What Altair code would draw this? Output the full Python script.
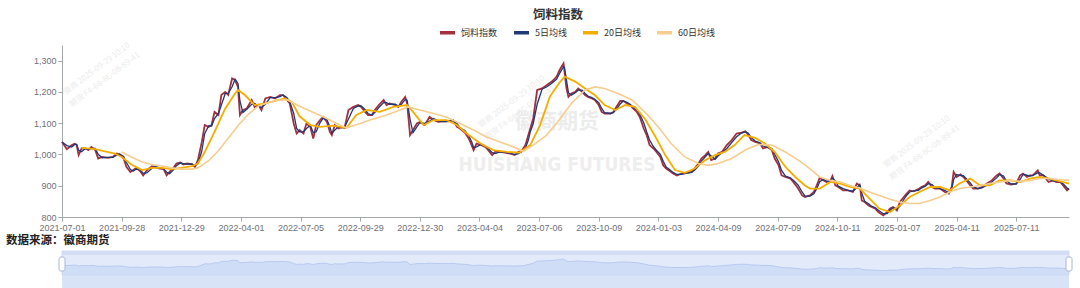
import altair as alt
import pandas as pd

TITLE = "饲料指数"
SOURCE = "数据来源：徽商期货"
SERIES = ["饲料指数", "5日均线", "20日均线", "60日均线"]
COLORS = ["#A3303F", "#1F3A77", "#F4AE00", "#F7CD8F"]
X_LABELS = ["2021-07-01", "2021-09-28", "2021-12-29", "2022-04-01", "2022-07-05",
            "2022-09-29", "2022-12-30", "2023-04-04", "2023-07-06", "2023-10-09",
            "2024-01-03", "2024-04-09", "2024-07-09", "2024-10-11", "2025-01-07",
            "2025-04-11", "2025-07-11"]
LABEL_STEP = 61          # trading days between axis labels
LAST_DAY = 1030          # last trading-day number shown
Y_TICKS = [800, 900, 1000, 1100, 1200, 1300]
WATERMARK_CN = "徽商期货"
WATERMARK_EN = "HUISHANG FUTURES"
STAMP_1 = "徽商    2025-09-29    10:10"
STAMP_2 = "期货    F4-68-8C-08-89-41"

# (trading-day number, value)
INDEX_POINTS = [
    (0, 1040), (5, 1017), (10, 1030), (13, 1034), (15, 1030), (17, 998), (20, 1019), (24, 1019),
    (27, 1014), (30, 1024), (34, 1014), (37, 987), (41, 992), (47, 989), (52, 992), (56, 1003),
    (59, 1000), (63, 987), (66, 960), (70, 944), (73, 950), (76, 957), (80, 946), (83, 933),
    (87, 950), (92, 962), (95, 960), (100, 955), (104, 953), (107, 933), (110, 944), (114, 957),
    (117, 971), (121, 974), (124, 968), (128, 971), (133, 968), (136, 960), (139, 982), (143, 1040),
    (146, 1094), (150, 1088), (153, 1094), (156, 1136), (160, 1126), (163, 1190), (167, 1200),
    (170, 1190), (174, 1243), (177, 1238), (180, 1216), (182, 1126), (185, 1142), (189, 1147),
    (194, 1174), (197, 1152), (201, 1158), (204, 1142), (208, 1179), (213, 1184), (218, 1179),
    (223, 1190), (226, 1190), (230, 1174), (233, 1163), (237, 1099), (240, 1067), (243, 1078),
    (247, 1067), (250, 1099), (254, 1088), (257, 1051), (260, 1094), (264, 1110), (267, 1120),
    (271, 1104), (274, 1072), (276, 1062), (279, 1094), (283, 1083), (286, 1088), (289, 1085),
    (293, 1142), (298, 1152), (303, 1158), (306, 1152), (310, 1136), (313, 1126), (317, 1126),
    (320, 1142), (324, 1158), (329, 1174), (332, 1158), (335, 1163), (341, 1158), (344, 1152),
    (347, 1168), (351, 1184), (353, 1163), (356, 1062), (359, 1078), (363, 1099), (366, 1104),
    (371, 1094), (376, 1120), (380, 1110), (385, 1104), (390, 1106), (395, 1106), (400, 1110),
    (404, 1088), (407, 1083), (412, 1070), (416, 1051), (419, 1030), (421, 1014), (424, 1035),
    (429, 1030), (433, 1024), (436, 1014), (440, 998), (443, 1008), (448, 1008), (453, 1006),
    (458, 1003), (463, 998), (467, 1008), (470, 1010), (474, 1030), (477, 1062), (479, 1083),
    (482, 1115), (486, 1206), (491, 1211), (496, 1222), (501, 1233), (506, 1249), (509, 1270),
    (513, 1291), (514, 1265), (516, 1211), (518, 1184), (521, 1195), (525, 1200), (528, 1211),
    (532, 1200), (535, 1190), (538, 1184), (542, 1179), (545, 1174), (549, 1158), (552, 1136),
    (555, 1131), (561, 1131), (564, 1136), (567, 1152), (571, 1171), (574, 1171), (578, 1163),
    (581, 1158), (584, 1147), (588, 1136), (591, 1120), (595, 1083), (598, 1062), (601, 1030),
    (605, 1019), (608, 1008), (612, 992), (615, 965), (618, 955), (622, 946), (625, 939),
    (629, 933), (634, 939), (639, 941), (644, 944), (647, 955), (651, 971), (654, 987),
    (658, 998), (661, 1008), (664, 982), (668, 987), (671, 1003), (675, 1008), (680, 1030),
    (685, 1046), (690, 1067), (695, 1070), (699, 1074), (702, 1062), (705, 1046), (709, 1040),
    (714, 1035), (717, 1019), (722, 1024), (726, 1014), (729, 987), (733, 965), (736, 933),
    (740, 928), (745, 923), (748, 912), (753, 891), (757, 869), (760, 864), (765, 869),
    (769, 880), (772, 901), (775, 925), (779, 917), (782, 912), (786, 917), (788, 931),
    (791, 901), (794, 896), (799, 885), (804, 885), (809, 880), (813, 907), (816, 901),
    (818, 853), (821, 848), (825, 837), (828, 832), (832, 827), (835, 816), (840, 805),
    (844, 816), (847, 827), (850, 832), (854, 821), (857, 848), (861, 864), (864, 875),
    (867, 885), (871, 882), (876, 889), (879, 896), (883, 901), (886, 912), (890, 896),
    (893, 891), (898, 891), (903, 880), (907, 875), (910, 896), (912, 944), (915, 928),
    (919, 936), (922, 928), (925, 917), (929, 901), (932, 891), (937, 891), (941, 896),
    (946, 907), (951, 917), (956, 933), (959, 939), (963, 923), (966, 907), (971, 904),
    (976, 907), (980, 933), (983, 939), (987, 928), (990, 933), (993, 933), (998, 949),
    (1000, 933), (1004, 933), (1009, 912), (1014, 917), (1017, 912), (1021, 912), (1024, 901),
    (1028, 885), (1030, 891),
]

MA20_POINTS = [
    (20, 1021), (34, 1017), (44, 1010), (54, 1003), (61, 992), (71, 968), (82, 950), (92, 957),
    (102, 957), (112, 953), (122, 957), (133, 963), (139, 971), (146, 1008), (156, 1072),
    (167, 1147), (177, 1195), (180, 1206), (187, 1190), (197, 1158), (208, 1163), (218, 1171),
    (228, 1179), (235, 1168), (243, 1122), (254, 1094), (264, 1088), (277, 1092), (291, 1085),
    (301, 1126), (312, 1142), (325, 1136), (339, 1152), (353, 1158), (359, 1136), (370, 1094),
    (380, 1110), (393, 1110), (404, 1094), (414, 1067), (428, 1035), (441, 1014), (455, 1008),
    (468, 1006), (479, 1030), (489, 1094), (499, 1185), (509, 1230), (514, 1249), (525, 1233),
    (535, 1211), (545, 1190), (555, 1158), (566, 1142), (576, 1158), (586, 1152), (596, 1115),
    (606, 1062), (617, 998), (627, 950), (637, 941), (647, 955), (658, 982), (668, 998),
    (678, 1008), (688, 1030), (698, 1062), (709, 1053), (719, 1035), (729, 1008), (740, 960),
    (750, 928), (760, 901), (765, 891), (775, 891), (786, 912), (796, 907), (806, 896),
    (816, 891), (826, 859), (836, 827), (847, 816), (857, 837), (867, 864), (877, 880),
    (888, 896), (898, 896), (908, 885), (918, 907), (929, 923), (939, 901), (949, 901),
    (959, 917), (970, 917), (980, 912), (990, 923), (1000, 928), (1010, 923), (1021, 914),
    (1030, 907),
]

MA60_POINTS = [
    (61, 1008), (71, 992), (82, 976), (92, 968), (102, 963), (112, 957), (122, 953), (133, 953),
    (139, 957), (150, 980), (160, 1012), (170, 1052), (180, 1092), (191, 1130), (201, 1155),
    (211, 1166), (221, 1174), (231, 1174), (242, 1156), (256, 1136), (271, 1115), (284, 1094),
    (291, 1085), (305, 1099), (318, 1113), (332, 1126), (346, 1142), (354, 1152), (366, 1142),
    (380, 1131), (393, 1120), (407, 1099), (421, 1078), (434, 1056), (448, 1040), (462, 1024),
    (472, 1010), (482, 1030), (495, 1060), (507, 1104), (521, 1163), (535, 1206), (545, 1216),
    (555, 1211), (569, 1195), (583, 1174), (596, 1136), (610, 1088), (623, 1035), (637, 992),
    (651, 971), (661, 965), (671, 971), (685, 987), (699, 1014), (712, 1032), (726, 1030),
    (740, 1008), (753, 982), (762, 962), (775, 928), (786, 917), (796, 912), (806, 901),
    (816, 893), (826, 880), (836, 869), (847, 857), (857, 848), (867, 843), (877, 843),
    (888, 853), (898, 864), (908, 880), (918, 891), (929, 896), (939, 901), (949, 907),
    (959, 912), (970, 917), (980, 914), (990, 917), (1000, 923), (1010, 923), (1021, 919),
    (1030, 917),
]

rows = []
for name, pts in ((SERIES[0], INDEX_POINTS), (SERIES[2], MA20_POINTS), (SERIES[3], MA60_POINTS)):
    for d, v in pts:
        rows.append({"day": d, "value": v, "series": name})
df = pd.DataFrame(rows)
df_index = df[df["series"] == SERIES[0]]

W, H = 1007, 172
FONT = "Noto Sans CJK SC"
NUM_FONT = "Liberation Sans"
AXIS_GRAY = "#A4A7AE"
LABEL_GRAY = "#6E7079"

label_array = "[" + ",".join("'%s'" % s for s in X_LABELS) + "]"
x_enc = alt.X(
    "day:Q",
    scale=alt.Scale(domain=[0, LAST_DAY], nice=False, zero=False),
    axis=alt.Axis(
        values=[i * LABEL_STEP for i in range(len(X_LABELS))],
        labelExpr=f"{label_array}[round(datum.value / {LABEL_STEP})]",
        title=None, grid=False, domainColor=AXIS_GRAY, tickColor=AXIS_GRAY,
        tickSize=4, labelColor=LABEL_GRAY, labelFontSize=9, labelFont=NUM_FONT,
        labelPadding=2, labelFlush=False, labelOverlap=False,
    ),
)
y_scale = alt.Scale(domain=[800, 1350], nice=False, zero=False)
y_axis = alt.Axis(values=Y_TICKS, format=",.0f", title=None, grid=False,
                  domainColor=AXIS_GRAY, tickColor=AXIS_GRAY, tickSize=4,
                  labelColor=LABEL_GRAY, labelFontSize=9, labelFont=NUM_FONT, labelPadding=2)
color_scale = alt.Scale(domain=SERIES, range=COLORS)
legend = alt.Legend(orient="none", legendX=376, legendY=-22, direction="horizontal",
                    title=None, symbolType="stroke", symbolStrokeWidth=3.5, symbolSize=225,
                    labelFontSize=9, labelFont=FONT, labelColor="#333333",
                    columnPadding=9, labelOffset=4)


def text_layer(txt, x, y, size, color, weight="normal", angle=0, font=FONT):
    return alt.Chart(pd.DataFrame({"t": [txt]})).mark_text(
        fontSize=size, color=color, fontWeight=weight, angle=angle, font=font,
        align="center", baseline="middle",
    ).encode(text="t:N", x=alt.value(x), y=alt.value(y))


# faint watermarks
marks = [
    text_layer(WATERMARK_CN, 495, 77, 21, "#ECECEC", "bold"),
    text_layer(WATERMARK_EN, 495, 120, 19, "#EEEEEE", "bold",
               font="DejaVu Sans Condensed, Roboto, sans-serif"),
]
for cx, cy in ((35, 24), (450, 57), (855, 97)):
    marks.append(text_layer(STAMP_1, cx, cy, 8, "#ECECEC", angle=323))
    marks.append(text_layer(STAMP_2, cx + 8, cy + 11, 8, "#ECECEC", angle=323))

base_idx = alt.Chart(df_index)

red = base_idx.mark_line(strokeWidth=1.8).encode(
    x=x_enc, y=alt.Y("value:Q", scale=y_scale, axis=y_axis),
    color=alt.Color("series:N", scale=color_scale, legend=legend),
)
blue = base_idx.transform_window(
    ma5="mean(value)", frame=[-1, 0], sort=[alt.SortField("day")]
).transform_calculate(series=f"'{SERIES[1]}'").mark_line(strokeWidth=1.3).encode(
    x=x_enc, y=alt.Y("ma5:Q", scale=y_scale, axis=y_axis),
    color=alt.Color("series:N", scale=color_scale, legend=legend),
)
ma20 = alt.Chart(df[df["series"] == SERIES[2]]).mark_line(strokeWidth=1.8).encode(
    x=x_enc, y=alt.Y("value:Q", scale=y_scale, axis=y_axis),
    color=alt.Color("series:N", scale=color_scale, legend=legend),
)
ma60 = alt.Chart(df[df["series"] == SERIES[3]]).mark_line(strokeWidth=1.6).encode(
    x=x_enc, y=alt.Y("value:Q", scale=y_scale, axis=y_axis),
    color=alt.Color("series:N", scale=color_scale, legend=legend),
)

title = text_layer(TITLE, 496, -30, 12.5, "#333333", "bold")
source = alt.Chart(pd.DataFrame({"t": [SOURCE]})).mark_text(
    fontSize=11.5, color="#222222", fontWeight="bold", font=FONT, align="left", baseline="middle"
).encode(text="t:N", x=alt.value(-56), y=alt.value(196))

main = alt.layer(*marks, red, blue, ma20, ma60, title, source)

# data-zoom slider under the chart
one = pd.DataFrame({"k": [0]})
slider_bg = alt.Chart(one).mark_rect(color="#E3EBFB", stroke="#D3DCF0", strokeWidth=1).encode(
    x=alt.value(0), x2=alt.value(W), y=alt.value(206), y2=alt.value(230))
slider_top = alt.Chart(one).mark_rect(color="#D3DDF3").encode(
    x=alt.value(0), x2=alt.value(W), y=alt.value(206), y2=alt.value(210))
slider_area = alt.Chart(df_index).mark_area(
    color="#C8D7F5", line={"color": "#AFC3EE", "strokeWidth": 0.8}
).encode(
    x=x_enc,
    y=alt.Y("value:Q", scale=alt.Scale(domain=[800, 1300], range=[225.8, 213.8], zero=False,
                                        nice=False), axis=None),
    y2=alt.value(230),
)
handle_l = alt.Chart(one).mark_rect(fill="white", stroke="#A9B6D4", strokeWidth=1,
                                    cornerRadius=2).encode(
    x=alt.value(-3), x2=alt.value(3), y=alt.value(212), y2=alt.value(226))
handle_r = alt.Chart(one).mark_rect(fill="white", stroke="#A9B6D4", strokeWidth=1,
                                    cornerRadius=2).encode(
    x=alt.value(W - 3), x2=alt.value(W + 3), y=alt.value(212), y2=alt.value(226))

slider = alt.layer(slider_bg, slider_top, slider_area, handle_l, handle_r)

chart = alt.layer(main, slider).resolve_scale(y="independent").properties(
    width=W, height=H,
    autosize=alt.AutoSizeParams(type="none"),
    padding={"left": 62, "top": 45, "right": 11, "bottom": 71},
    background="white",
).configure_view(stroke=None)

chart.save("out.html", embed_options={"renderer": "svg", "actions": False})
